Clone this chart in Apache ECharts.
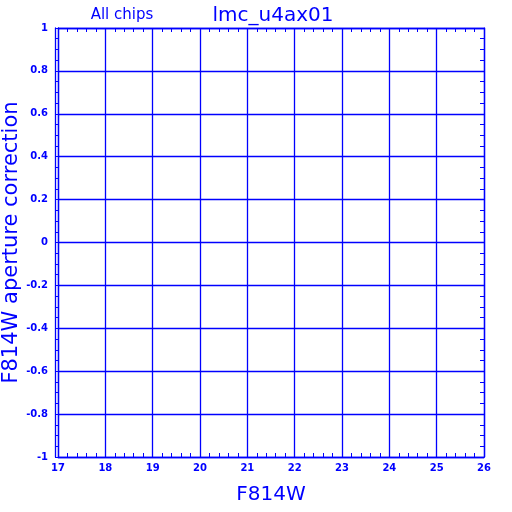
<!DOCTYPE html>
<html><head><meta charset="utf-8">
<script src="https://cdn.jsdelivr.net/npm/echarts@6/dist/echarts.min.js"></script>
<style>html,body{margin:0;padding:0;background:#fff}#c{width:512px;height:512px}</style>
</head><body><div id="c"></div>
<script>
var xRange = [17, 26];
var yRange = [-1, 1];
var pointsX = [];
var pointsY = [];
var titleText = 'lmc_u4ax01';
var subText = 'All chips';
var xName = 'F814W';
var yName = 'F814W aperture correction';
var BLUE = '#0000ff';

var chart = echarts.init(document.getElementById('c'), null, {renderer: 'canvas'});
var data = pointsX.map(function (x, i) { return [x, pointsY[i]]; });
var lblFont = {color: BLUE, fontFamily: 'DejaVu Sans', fontWeight: 'bold', fontSize: 10};
function yFmt(v) { return String(Math.round(v * 10) / 10); }
var gridLine = {show: true, lineStyle: {color: BLUE, width: 1.3, opacity: 1, type: 'solid'}};

chart.setOption({
  animation: false,
  title: [
    {text: titleText, left: 268, top: 1, textAlign: 'center',
     textStyle: {color: BLUE, fontFamily: 'DejaVu Sans', fontWeight: 'normal', fontSize: 20}},
    {text: subText, left: 117, top: 3, textAlign: 'center',
     textStyle: {color: BLUE, fontFamily: 'DejaVu Sans', fontWeight: 'normal', fontSize: 15}}
  ],
  grid: {left: 58, right: 28, top: 28, bottom: 55, containLabel: false, outerBoundsMode: 'none'},
  xAxis: [
    {type: 'value', min: xRange[0], max: xRange[1], interval: 1, position: 'bottom',
     name: xName, nameLocation: 'middle', nameGap: 28, nameMoveOverlap: false,
     nameTextStyle: {color: BLUE, fontFamily: 'DejaVu Sans', fontSize: 20},
     axisLine: {show: true, onZero: false, lineStyle: {color: BLUE, width: 1.3}},
     axisTick: {show: false, inside: true},
     minorTick: {show: true, splitNumber: 5, length: 4, lineStyle: {color: BLUE, width: 1}},
     axisLabel: Object.assign({margin: 6}, lblFont),
     splitLine: gridLine},
    {type: 'value', min: xRange[0], max: xRange[1], interval: 1, position: 'top',
     axisLine: {show: true, onZero: false, lineStyle: {color: BLUE, width: 1.3}},
     axisTick: {show: false, inside: true},
     minorTick: {show: true, splitNumber: 5, length: 4, lineStyle: {color: BLUE, width: 1}},
     axisLabel: {show: false}, splitLine: {show: false}}
  ],
  yAxis: [
    {type: 'value', min: yRange[0], max: yRange[1], interval: 0.2, position: 'left',
     name: yName, nameLocation: 'middle', nameGap: 36, nameMoveOverlap: false,
     nameTextStyle: {color: BLUE, fontFamily: 'DejaVu Sans', fontSize: 21},
     axisLine: {show: true, onZero: false, lineStyle: {color: BLUE, width: 1.3}},
     axisTick: {show: true, inside: false, length: 3, lineStyle: {color: BLUE, width: 1}},
     minorTick: {show: true, splitNumber: 4, length: 3, lineStyle: {color: BLUE, width: 1}},
     axisLabel: Object.assign({margin: 10, formatter: yFmt}, lblFont),
     splitLine: gridLine},
    {type: 'value', min: yRange[0], max: yRange[1], interval: 0.2, position: 'right',
     axisLine: {show: true, onZero: false, lineStyle: {color: BLUE, width: 1.3}},
     axisTick: {show: false, inside: true},
     minorTick: {show: true, splitNumber: 4, length: 4, lineStyle: {color: BLUE, width: 1}},
     axisLabel: {show: false}, splitLine: {show: false}},
    {type: 'value', min: yRange[0], max: yRange[1], position: 'left', offset: 3,
     axisLine: {show: true, onZero: false, lineStyle: {color: BLUE, width: 1.3}},
     axisTick: {show: false}, axisLabel: {show: false}, splitLine: {show: false}}
  ],
  series: [{type: 'scatter', data: data, symbolSize: 3, itemStyle: {color: BLUE}}]
});
</script></body></html>
